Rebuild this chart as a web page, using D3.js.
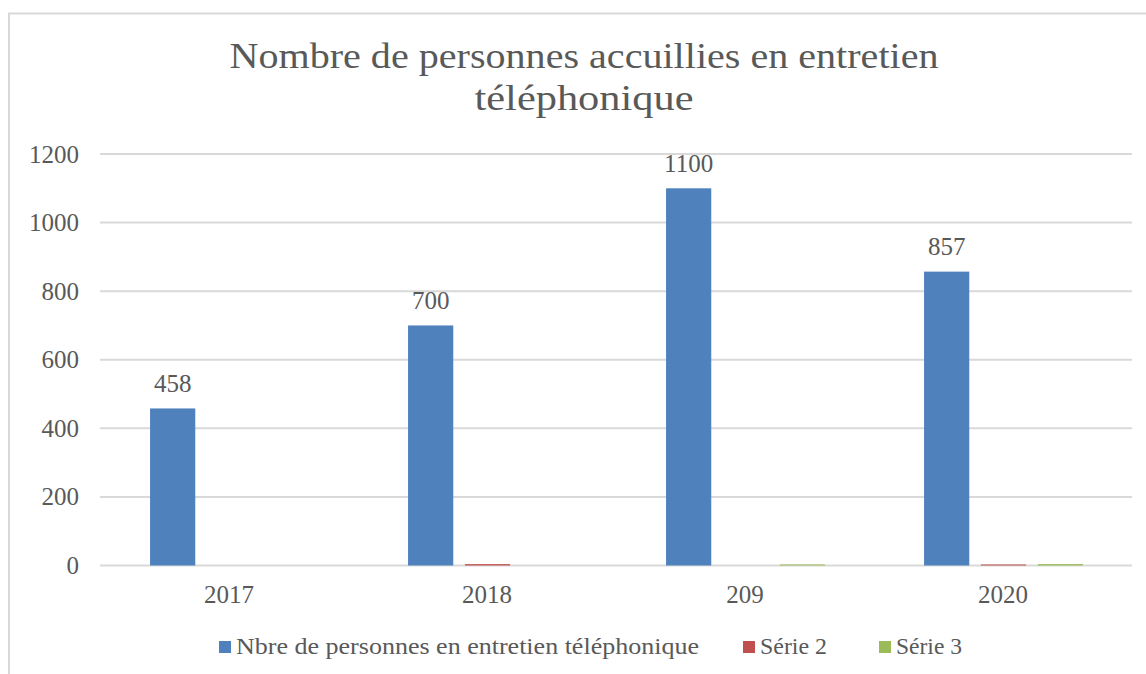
<!DOCTYPE html>
<html>
<head>
<meta charset="utf-8">
<script src="https://d3js.org/d3.v7.min.js"></script>
<style>
  body { margin: 0; background: #fff; }
  svg { display: block; font-family: "Liberation Serif", "DejaVu Serif", serif; }
  .tick-label, .data-label, .legend-label, .title { fill: #595959; }
</style>
</head>
<body>
<svg id="chart"></svg>
<script>
const categories = ["2017", "2018", "209", "2020"];
const serie1 = [458, 700, 1100, 857];
const serie2 = [0, 4, 0, 3];
const serie3 = [0, 0, 3, 4];
const seriesNames = ["Nbre de personnes en entretien téléphonique", "Série 2", "Série 3"];
const seriesColors = ["#4F81BD", "#C0504D", "#9BBB59"];
const yTicks = [0, 200, 400, 600, 800, 1000, 1200];
const titleLines = ["Nombre de personnes accuillies en entretien", "téléphonique"];

const W = 1146, H = 674;
const plot = { left: 100, right: 1132, top: 154, bottom: 565.5 };

const svg = d3.select("#chart").attr("width", W).attr("height", H);

// chart border
svg.append("rect")
  .attr("x", 9).attr("y", 13.5)
  .attr("width", W + 20).attr("height", H + 20)
  .attr("fill", "none")
  .attr("stroke", "#D9D9D9")
  .attr("stroke-width", 2);

// title, two centred lines
const titleLen = [709, 219];
svg.selectAll(".title")
  .data(titleLines)
  .join("text")
  .attr("class", "title")
  .attr("x", 584)
  .attr("y", (d, i) => 68 + i * 41.5)
  .attr("text-anchor", "middle")
  .attr("font-size", 36)
  .attr("textLength", (d, i) => titleLen[i])
  .attr("lengthAdjust", "spacingAndGlyphs")
  .text(d => d);

const yScale = d3.scaleLinear().domain([0, 1200]).range([plot.bottom, plot.top]);
const x0 = d3.scaleBand().domain(categories).range([plot.left, plot.right]).padding(0);
const x1 = d3.scaleBand().domain([0, 1, 2])
  .range([x0.bandwidth() * 0.194, x0.bandwidth() * 0.81])
  .paddingInner(0.205).paddingOuter(0);

// gridlines
svg.append("g")
  .selectAll("line")
  .data(yTicks)
  .join("line")
  .attr("x1", plot.left).attr("x2", plot.right)
  .attr("y1", d => yScale(d)).attr("y2", d => yScale(d))
  .attr("stroke", "#D9D9D9")
  .attr("stroke-width", 2);

// y tick labels
svg.append("g")
  .selectAll("text")
  .data(yTicks)
  .join("text")
  .attr("class", "tick-label")
  .attr("x", 79)
  .attr("y", d => yScale(d))
  .attr("dy", "0.34em")
  .attr("text-anchor", "end")
  .attr("font-size", 25)
  .text(d => d);

// x tick labels
svg.append("g")
  .selectAll("text")
  .data(categories)
  .join("text")
  .attr("class", "tick-label")
  .attr("x", d => x0(d) + x0.bandwidth() / 2)
  .attr("y", 603)
  .attr("text-anchor", "middle")
  .attr("font-size", 25)
  .text(d => d);

// bars
const allSeries = [serie1, serie2, serie3];
const groups = svg.append("g")
  .selectAll("g")
  .data(categories)
  .join("g")
  .attr("transform", d => `translate(${x0(d)},0)`);

groups.selectAll("rect")
  .data((c, ci) => allSeries.map((s, si) => ({ si, v: s[ci] })))
  .join("rect")
  .attr("x", d => x1(d.si))
  .attr("width", x1.bandwidth())
  .attr("y", d => yScale(d.v))
  .attr("height", d => yScale(0) - yScale(d.v))
  .attr("fill", d => seriesColors[d.si]);

// data labels for first series
svg.append("g")
  .selectAll("text")
  .data(categories)
  .join("text")
  .attr("class", "data-label")
  .attr("x", (d, i) => x0(d) + x1(0) + x1.bandwidth() / 2)
  .attr("y", (d, i) => yScale(serie1[i]) - 16.5)
  .attr("text-anchor", "middle")
  .attr("font-size", 25)
  .text((d, i) => serie1[i]);

// legend
const legendX = [219, 743, 879];
const legendLen = [463, 67, 66];
const legend = svg.append("g")
  .selectAll("g")
  .data(seriesNames)
  .join("g")
  .attr("transform", (d, i) => `translate(${legendX[i]},641)`);

legend.append("rect")
  .attr("width", 12).attr("height", 12)
  .attr("fill", (d, i) => seriesColors[i]);

legend.append("text")
  .attr("class", "legend-label")
  .attr("x", 17)
  .attr("y", 13)
  .attr("font-size", 24)
  .attr("textLength", (d, i) => legendLen[i])
  .attr("lengthAdjust", "spacingAndGlyphs")
  .text(d => d);
</script>
</body>
</html>
